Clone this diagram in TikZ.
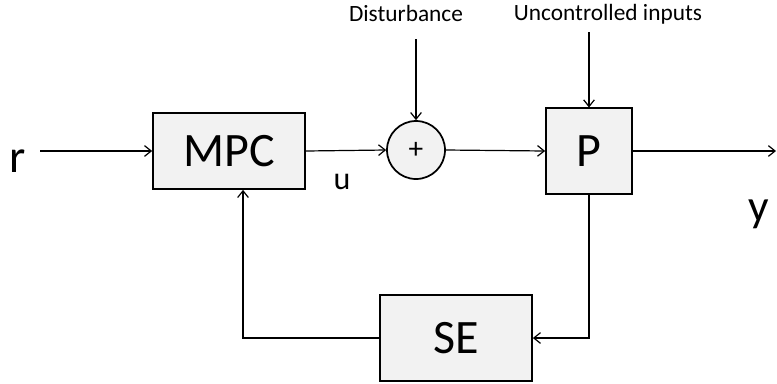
\documentclass[tikz,border=0pt]{standalone}
\usepackage{fontspec}
\setmainfont{Carlito}
\usetikzlibrary{arrows.meta}
\definecolor{boxgray}{HTML}{F2F2F2}
\begin{document}
\begin{tikzpicture}[x=0.75pt,y=-0.75pt,
        line width=0.9pt,
        blk/.style={draw,line width=1.3pt,fill=boxgray,inner sep=0pt,font=\fontsize{36}{40}\selectfont},
        sig/.style={-{Straight Barb[length=5pt,width=8pt]}},
        lbl/.style={anchor=base,font=\fontsize{17.5}{20}\selectfont}]
        \useasboundingbox (0,0) rectangle (777,383);
        % blocks
        \node[blk,minimum width=114pt,minimum height=57pt] (MPC) at (229,151) {MPC};
        \node[blk,circle,minimum size=43.5pt,font=\fontsize{22}{24}\selectfont] (sum) at (416,150) {+};
        \node[blk,minimum width=64.5pt,minimum height=64pt] (P) at (589,151) {P};
        \node[blk,minimum width=114pt,minimum height=64pt] (SE) at (456,338) {SE};
        % signals
        \node[anchor=base,font=\fontsize{35}{38}\selectfont] (r) at (18,172) {r};
        \node[anchor=base,font=\fontsize{24}{28}\selectfont] (u) at (342,189) {u};
        \node[anchor=base,font=\fontsize{34}{38}\selectfont] (y) at (759,221) {y};
        \node[lbl] (dist) at (406,21) {Disturbance};
        \node[lbl] (unc) at (608,20) {Uncontrolled inputs};
        \coordinate (rin) at (40,151);
        \coordinate (dtop) at (416,39);
        \coordinate (utop) at (589,32);
        \coordinate (out) at (776,151);
        \draw[sig] (rin) -- (MPC.west);
        \draw[sig] (MPC.east) -- (sum.west);
        \draw[sig] (sum.east) -- (P.west);
        \draw[sig] (P.east) -- (out);
        \draw[sig] (dtop) -- (sum.north);
        \draw[sig] (utop) -- (P.north);
        \draw[sig] (P.south) |- (SE.east);
        \draw[sig] (SE.west) -| ([xshift=10.5pt]MPC.south);
    \end{tikzpicture}
\end{document}
